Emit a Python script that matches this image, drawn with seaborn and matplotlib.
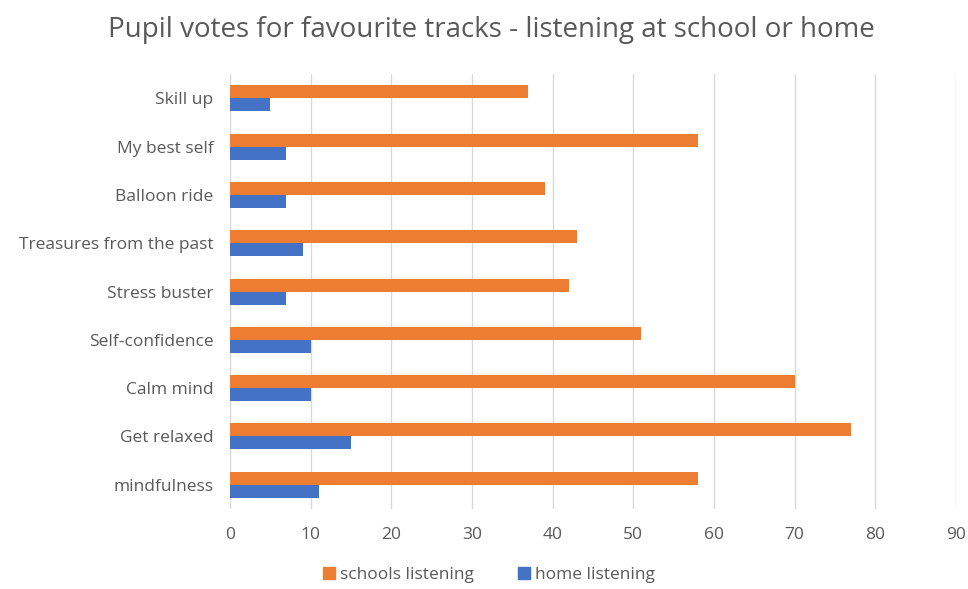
import pandas as pd
import seaborn as sns
import matplotlib.pyplot as plt

# Values
tracks = [
    "Skill up",
    "My best self",
    "Balloon ride",
    "Treasures from the past",
    "Stress buster",
    "Self-confidence",
    "Calm mind",
    "Get relaxed",
    "mindfulness",
]
schools_listening = [37, 58, 39, 43, 42, 51, 70, 77, 58]
home_listening = [5, 7, 7, 9, 7, 10, 10, 15, 11]
x_ticks = [0, 10, 20, 30, 40, 50, 60, 70, 80, 90]

series = ["schools listening", "home listening"]
colors = ["#ED7D31", "#4472C4"]

df = pd.DataFrame({
    "track": tracks * 2,
    "votes": schools_listening + home_listening,
    "series": [series[0]] * len(tracks) + [series[1]] * len(tracks),
})

sns.set_style("white")
plt.rcParams['font.family'] = ['Open Sans', 'DejaVu Sans']

fig = plt.figure(figsize=(9.68, 5.89), dpi=100)
ax = fig.add_axes([0.2376, 0.136, 0.75, 0.738])

sns.barplot(data=df, y="track", x="votes", hue="series", order=tracks,
            hue_order=series, palette=colors, orient="h", width=0.54,
            saturation=1, linewidth=0, legend=False, ax=ax)

ax.set_xlim(0, 90)
ax.set_ylim(8.5, -0.5)
ax.set_xticks(x_ticks)
ax.xaxis.grid(True, color="#D9D9D9", linewidth=1)
ax.set_axisbelow(True)
for s in ax.spines.values():
    s.set_visible(False)
ax.set_xlabel("")
ax.set_ylabel("")
ax.tick_params(axis="both", length=0, labelsize=12.5, labelcolor="#595959")
ax.tick_params(axis="x", pad=13)
ax.tick_params(axis="y", pad=12)

fig.suptitle("Pupil votes for favourite tracks - listening at school or home",
             x=0.508, y=0.972, fontsize=20, color="#595959")

handles = [plt.Rectangle((0, 0), 1, 1, color=c) for c in colors]
fig.legend(handles, series, loc="upper center", bbox_to_anchor=(0.505, 0.04),
           ncol=2, frameon=False, fontsize=12.5, labelcolor="#595959",
           handlelength=0.7, handleheight=0.7, handletextpad=0.3,
           columnspacing=2.5, borderaxespad=0, borderpad=0.1)

fig.savefig("out.png", dpi=100)
